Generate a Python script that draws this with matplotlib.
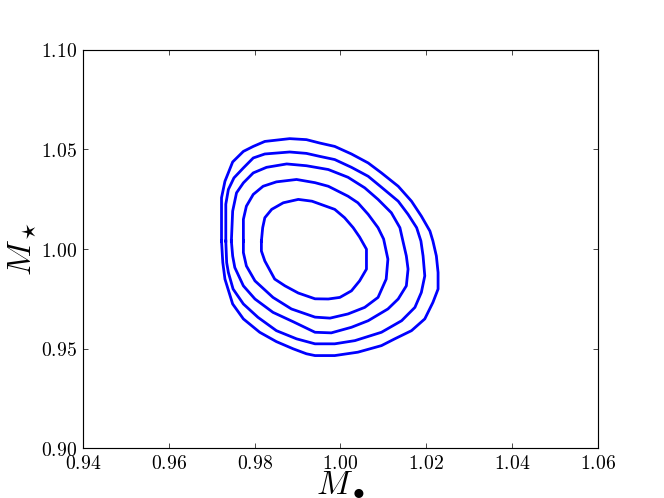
import numpy as np
import matplotlib
matplotlib.use("Agg")
import matplotlib.pyplot as plt
from matplotlib.ticker import FuncFormatter

plt.rcParams['mathtext.fontset'] = 'cm'
plt.rcParams['font.family'] = ['DejaVu Serif']

# Contour levels (outermost first), data coordinates
c1_x = [0.9723,0.9723,0.9731,0.9749,0.9774,0.9797,0.9824,0.9882,0.9921,0.9952,0.9987,1.0026,1.0065,1.0096,1.0135,1.0166,1.0189,1.0209,1.0216,1.0224,1.0228,1.0228,1.0216,1.0197,1.0166,1.0127,1.0096,1.0041,0.9987,0.9941,0.9921,0.9890,0.9851,0.9812,0.9774,0.9749,0.9731,0.9726,0.9723]
c1_y = [1.004,1.0257,1.034,1.0437,1.049,1.0515,1.054,1.0554,1.0549,1.0532,1.0515,1.0477,1.0432,1.0382,1.0315,1.024,1.0165,1.009,1.004,0.9965,0.9882,0.9799,0.9732,0.9649,0.959,0.9549,0.9515,0.9482,0.9465,0.9465,0.9474,0.9499,0.9535,0.9582,0.9649,0.9724,0.9849,0.9932,1.004]

c2_x = [0.9733,0.9733,0.9739,0.9752,0.9774,0.9797,0.9824,0.9882,0.9921,0.9952,0.9987,1.0026,1.0065,1.0096,1.0135,1.0158,1.0178,1.0188,1.0193,1.0197,1.0189,1.0174,1.0143,1.0096,1.0034,0.9987,0.9941,0.9898,0.9851,0.9808,0.9774,0.9750,0.9739,0.9735,0.9733]
c2_y = [1.004,1.0225,1.0299,1.0357,1.0407,1.0457,1.0477,1.0487,1.048,1.0465,1.0449,1.041,1.0365,1.031,1.024,1.0174,1.0107,1.004,0.9965,0.9865,0.9782,0.9707,0.964,0.9582,0.954,0.9524,0.9524,0.9549,0.959,0.9657,0.9724,0.9799,0.9882,0.9932,1.004]

c3_x = [0.9746,0.9749,0.9758,0.9774,0.9797,0.9828,0.9875,0.9921,0.9972,1.0018,1.0057,1.0088,1.0119,1.0139,1.0146,1.0154,1.0158,1.0154,1.0135,1.0111,1.0065,1.0026,0.9979,0.9941,0.9890,0.9843,0.9801,0.9774,0.9754,0.9749,0.9746]
c3_y = [1.004,1.019,1.0282,1.0332,1.0382,1.041,1.0427,1.0418,1.0399,1.036,1.0307,1.0249,1.0182,1.0107,1.004,0.9965,0.9899,0.9815,0.9749,0.9699,0.964,0.9607,0.9579,0.9582,0.9635,0.9682,0.9749,0.9815,0.9907,0.9965,1.004]

c4_x = [0.9774,0.9774,0.9781,0.9797,0.9820,0.9851,0.9898,0.9941,0.9972,1.0018,1.0041,1.0065,1.0088,1.0101,1.0111,1.0107,1.0088,1.0057,1.0018,0.9976,0.9941,0.9886,0.9843,0.9801,0.9781,0.9774,0.9774]
c4_y = [1.004,1.0149,1.0215,1.0274,1.0315,1.0337,1.0349,1.0333,1.0315,1.0265,1.0232,1.0174,1.0107,1.005,0.9949,0.9849,0.9757,0.9707,0.9674,0.9653,0.9658,0.9699,0.9757,0.984,0.9915,0.9982,1.004]

c5_x = [0.9816,0.9819,0.9824,0.9840,0.9867,0.9902,0.9934,0.9987,1.0010,1.0030,1.0045,1.0061,1.0061,1.0045,1.0026,0.9999,0.9972,0.9941,0.9902,0.9871,0.9847,0.9824,0.9816,0.9816]
c5_y = [1.004,1.0107,1.0157,1.0199,1.0232,1.0249,1.024,1.0199,1.0157,1.0107,1.006,0.9999,0.9899,0.984,0.979,0.9757,0.9749,0.975,0.9779,0.9815,0.9849,0.994,0.999,1.004]

x_ticks = [0.94, 0.96, 0.98, 1.00, 1.02, 1.04, 1.06]
y_ticks = [0.90, 0.95, 1.00, 1.05, 1.10]
x_label = r'$M_\bullet$'
y_label = r'$M_\star$'

fig = plt.figure(figsize=(8, 6), dpi=83, facecolor='white')
ax = fig.add_axes([0.125, 0.1, 0.775, 0.8])

for xs, ys in [(c1_x, c1_y), (c2_x, c2_y), (c3_x, c3_y), (c4_x, c4_y), (c5_x, c5_y)]:
    ax.plot(xs, ys, color='#0000ff', lw=2.4, solid_joinstyle='round')

ax.set_xlim(0.94, 1.06)
ax.set_ylim(0.90, 1.10)
ax.set_xticks(x_ticks)
ax.set_yticks(y_ticks)
fmt = FuncFormatter(lambda v, p: r'$%.2f$' % v)
ax.xaxis.set_major_formatter(fmt)
ax.yaxis.set_major_formatter(fmt)
ax.tick_params(direction='in', length=4, width=0.6, top=True, right=True,
               labelsize=17, pad=5)
for s in ax.spines.values():
    s.set_linewidth(1.0)

ax.set_xlabel(x_label, fontsize=29, labelpad=-4)
ax.set_ylabel(y_label, fontsize=29, labelpad=2)

fig.savefig('out.png', dpi=83, facecolor='white')
